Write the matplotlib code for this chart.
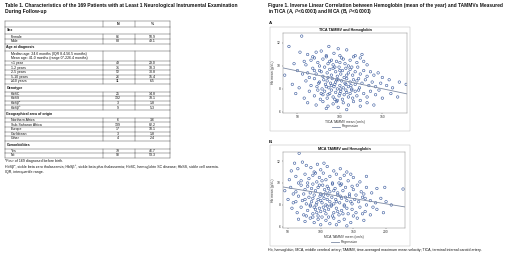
import matplotlib
matplotlib.use("Agg")
import matplotlib.pyplot as plt
from matplotlib.lines import Line2D
from matplotlib.patches import Rectangle

plt.rcParams['font.family'] = ['Liberation Sans', 'DejaVu Sans']

W, H = 520, 258
fig = plt.figure(figsize=(W / 100, H / 100), dpi=100)
fig.patch.set_facecolor('white')


def fx(x):
    return x / W


def fy(y):
    return 1 - y / H


# ---------------- Table data ----------------
table_title = ["Table 1. Characteristics of the 169 Patients with at Least 1 Neurological Instrumental Examination",
               "During Follow-up"]
col_headers = ["N", "%"]
sections = ["Sex", "Age at diagnosis", "Genotype", "Geographical area of origin", "Comorbidities"]
sex_labels = ["Female", "Male"]
sex_n = ["86", "83"]
sex_pct = ["50.9", "49.1"]
age_notes = ["Median age: 24.6 months (IQR 8.4-56.5 months)",
             "Mean age: 41.0 months (range 0*-226.4 months)"]
age_labels = ["<1 year", "1-2 years", "2-5 years", "5-10 years", "\u226510 years"]
age_n = ["49", "31", "52", "26", "11"]
age_pct = ["29.0", "18.3", "30.8", "15.4", "6.5"]
geno_labels = ["HbSC", "HbSS", "HbS\u03b2\u2070", "HbS\u03b2\u207a"]
geno_n = ["25", "132", "3", "9"]
geno_pct = ["14.8", "78.1", "1.8", "5.3"]
geo_labels = ["Northern Africa", "Sub-Saharan Africa", "Europe", "Caribbean", "Other"]
geo_n = ["6", "139", "17", "3", "4"]
geo_pct = ["3.6", "82.2", "10.1", "1.8", "2.4"]
com_labels = ["Yes", "No"]
com_n = ["79", "90"]
com_pct = ["46.7", "53.3"]
table_notes = ["*Four of 169 diagnosed before birth.",
               "HbS\u03b2\u2070, sickle beta zero thalassemia; HbS\u03b2\u207a, sickle beta plus thalassemia; HbSC, hemoglobin SC disease; HbSS, sickle cell anemia.",
               "IQR, interquartile range."]

# ---------------- Figure data ----------------
fig_title = ["Figure 1. Inverse Linear Correlation between Hemoglobin (mean of the year) and TAMMVs Measured",
             "in TICA (A, $\\it{P}$<0.0001) and MCA (B, $\\it{P}$<0.0001)"]
caption = "Hb, hemoglobin; MCA, middle cerebral artery; TAMMV, time-averaged maximum mean velocity; TICA, terminal internal carotid artery."

A_x = [40, 55, 87, 78, 108, 62, 72, 93, 100, 118, 68, 84, 126, 53, 98,
       46, 58, 66, 74, 80, 86, 90, 96, 102, 106, 112, 120, 128, 76, 84, 92, 100, 110, 116, 132, 70, 88, 104, 124, 60,
       35, 50, 62, 68, 72, 76, 80, 82, 85, 88, 90, 92, 95, 97, 99, 101, 103, 105, 107, 110, 112, 115, 118, 121, 124,
       128, 132, 136, 140, 145, 78, 86, 94, 100, 108, 114, 64, 70, 150, 56,
       44, 52, 60, 66, 70, 73, 76, 79, 81, 83, 85, 87, 89, 91, 93, 95, 97, 98, 100, 102, 104, 106, 108, 110, 112,
       114, 116, 118, 120, 123, 126, 130, 134, 138, 142, 148, 155, 162, 170, 178, 90, 96, 101, 107, 113, 84, 94, 75,
       122, 158,
       48, 58, 64, 70, 74, 77, 80, 82, 85, 88, 90, 92, 95, 97, 99, 101, 103, 105, 107, 110, 112, 115, 118, 120, 124,
       128, 132, 136, 142, 150, 160, 168, 86, 94, 100, 108, 114, 78, 122, 146,
       62, 72, 80, 86, 92, 98, 104, 110, 116, 124, 132, 140, 96, 84, 108]
A_y = [11.7, 12.6, 11.7, 11.3, 11.4, 11.0, 11.2, 11.1, 10.9, 10.9, 10.8, 10.9, 11.0, 11.2, 11.5,
       10.2, 10.4, 10.5, 10.3, 10.6, 10.2, 10.5, 10.4, 10.7, 10.2, 10.5, 10.3, 10.4, 10.0, 10.8, 10.1, 10.3, 10.0,
       10.8, 10.1, 10.7, 10.4, 10.6, 10.7, 10.1,
       9.2, 9.6, 9.4, 9.8, 9.3, 9.6, 9.1, 9.9, 9.4, 9.7, 9.2, 9.8, 9.5, 9.1, 9.9, 9.3, 9.6, 9.0, 9.8, 9.4, 9.7, 9.2,
       9.5, 9.9, 9.3, 9.6, 9.1, 9.5, 9.2, 9.4, 9.5, 9.0, 9.9, 9.6, 9.2, 9.9, 9.0, 9.6, 9.0, 9.3,
       8.4, 8.1, 8.7, 8.3, 8.9, 8.2, 8.6, 8.0, 8.8, 8.4, 8.7, 8.1, 8.5, 8.9, 8.2, 8.6, 8.0, 8.8, 8.3, 8.7, 8.1, 8.5,
       8.9, 8.2, 8.6, 8.0, 8.8, 8.4, 8.7, 8.1, 8.5, 8.8, 8.3, 8.6, 8.2, 8.5, 8.3, 8.1, 8.6, 8.4, 8.3, 8.8, 8.0, 8.4,
       8.3, 8.2, 8.4, 8.5, 8.9, 8.8,
       7.6, 7.2, 7.8, 7.4, 7.9, 7.1, 7.5, 7.8, 7.2, 7.6, 7.9, 7.3, 7.7, 7.0, 7.4, 7.8, 7.1, 7.5, 7.9, 7.3, 7.6, 7.2,
       7.8, 7.4, 7.0, 7.6, 7.3, 7.8, 7.5, 7.2, 7.6, 7.3, 7.5, 7.1, 7.6, 7.7, 7.9, 7.6, 7.9, 7.9,
       6.8, 6.6, 6.9, 6.5, 6.7, 6.4, 6.8, 6.6, 6.9, 6.5, 6.8, 6.6, 6.9, 6.3, 6.2]
A_reg_x = [33, 179]
A_reg_y = [9.83, 7.57]

B_x = [67, 60, 72, 78, 85, 95, 100, 110, 120, 65, 90, 130, 105, 140, 55,
       52, 62, 70, 76, 82, 88, 94, 98, 104, 108, 114, 118, 124, 130, 136, 142, 150, 160, 170, 80, 92, 102, 128, 146, 66,
       45, 54, 62, 70, 76, 80, 84, 88, 92, 96, 100, 103, 106, 110, 114, 118, 122, 126, 130, 134, 138, 144, 150, 156,
       162, 170, 178, 186, 198, 226, 74, 86, 98, 108, 120, 132, 58, 148, 166, 112,
       50, 58, 66, 72, 78, 82, 86, 90, 93, 96, 99, 102, 105, 108, 111, 114, 117, 120, 123, 126, 129, 132, 136, 140,
       144, 148, 152, 158, 164, 170, 176, 184, 192, 200, 208, 88, 100, 110, 124, 138, 76, 94, 116, 130, 154, 104, 84,
       146, 168, 62,
       56, 64, 70, 74, 80, 84, 88, 92, 96, 100, 104, 108, 112, 116, 120, 124, 128, 132, 136, 142, 148, 154, 160, 168,
       176, 186, 196, 90, 98, 106, 118, 126, 140, 78, 110, 150, 164, 94, 134, 180,
       66, 76, 84, 90, 96, 102, 108, 114, 120, 128, 136, 146, 156, 166, 100, 88, 112, 140, 124]
B_y = [12.7, 11.8, 11.9, 11.6, 11.4, 11.7, 11.2, 11.5, 11.1, 11.3, 11.0, 11.3, 11.8, 11.0, 11.1,
       10.3, 10.6, 10.2, 10.8, 10.4, 10.7, 10.1, 10.5, 10.9, 10.3, 10.6, 10.0, 10.8, 10.4, 10.7, 10.2, 10.5, 10.1,
       10.6, 10.0, 10.9, 10.2, 10.0, 10.8, 10.0,
       9.3, 9.6, 9.2, 9.8, 9.4, 9.7, 9.1, 9.9, 9.3, 9.6, 9.0, 9.8, 9.4, 9.7, 9.2, 9.9, 9.5, 9.1, 9.8, 9.3, 9.6, 9.0,
       9.4, 9.8, 9.2, 9.6, 9.1, 9.5, 9.6, 9.45, 9.0, 9.5, 9.8, 9.1, 9.3, 9.9, 9.0, 9.7, 9.0, 9.5,
       8.5, 8.2, 8.8, 8.4, 8.1, 8.7, 8.3, 8.9, 8.0, 8.5, 8.8, 8.2, 8.6, 8.0, 8.9, 8.3, 8.7, 8.1, 8.5, 8.9, 8.2, 8.6,
       8.0, 8.4, 8.8, 8.1, 8.5, 8.3, 8.7, 8.0, 8.4, 8.2, 8.6, 8.3, 8.0, 8.6, 8.4, 8.5, 8.3, 8.7, 8.5, 8.2, 8.0, 8.8,
       8.9, 8.9, 8.0, 8.3, 8.6, 8.3,
       7.7, 7.3, 7.8, 7.1, 7.5, 7.9, 7.2, 7.6, 7.0, 7.4, 7.8, 7.2, 7.6, 7.9, 7.3, 7.7, 7.1, 7.5, 7.9, 7.2, 7.6, 7.3,
       7.8, 7.4, 7.1, 7.6, 7.3, 7.8, 7.7, 7.5, 7.0, 7.4, 7.7, 7.0, 7.9, 7.0, 7.2, 7.3, 7.2, 7.8,
       6.7, 6.5, 6.8, 6.4, 6.7, 6.9, 6.6, 6.3, 6.8, 6.5, 6.7, 6.4, 6.8, 6.6, 6.2, 6.9, 6.9, 6.1, 6.2]
B_reg_x = [42, 229]
B_reg_y = [9.64, 7.82]

TXT = '#111111'
LINE = '#555555'

# ---------------- Table drawing ----------------
fig.text(fx(5), fy(5.5), table_title[0], fontsize=3.6, fontweight='bold', va='center', ha='left', color=TXT)
fig.text(fx(5), fy(12), table_title[1], fontsize=3.6, fontweight='bold', va='center', ha='left', color=TXT)

TL, TR, C1, C2 = 5, 170, 103, 135
XN, XP = 118, 152
top = 21
h_head, h_sec, h_row, h_note = 5.5, 7.8, 4.6, 9.5
fs = 2.55


def hline(y):
    fig.add_artist(Line2D([fx(TL), fx(TR)], [fy(y), fy(y)], lw=0.35, color=LINE))


def vlines(y0, y1):
    for xx in (TL, C1, C2, TR):
        fig.add_artist(Line2D([fx(xx), fx(xx)], [fy(y0), fy(y1)], lw=0.35, color=LINE))


def vouter(y0, y1):
    for xx in (TL, TR):
        fig.add_artist(Line2D([fx(xx), fx(xx)], [fy(y0), fy(y1)], lw=0.35, color=LINE))


y = top
hline(y)
vlines(y, y + h_head)
fig.text(fx(XN), fy(y + h_head / 2), col_headers[0], fontsize=fs, fontweight='bold', ha='center', va='center', color=TXT)
fig.text(fx(XP), fy(y + h_head / 2), col_headers[1], fontsize=fs, fontweight='bold', ha='center', va='center', color=TXT)
y += h_head
hline(y)


def section(title):
    global y
    vouter(y, y + h_sec)
    fig.text(fx(TL + 1.5), fy(y + h_sec / 2), title, fontsize=fs, fontweight='bold', ha='left', va='center', color=TXT)
    y += h_sec
    hline(y)


def rows(labels, ns, ps):
    global y
    for lab, n, p in zip(labels, ns, ps):
        vlines(y, y + h_row)
        fig.text(fx(TL + 6), fy(y + h_row / 2), lab, fontsize=fs, ha='left', va='center', color=TXT)
        fig.text(fx(XN), fy(y + h_row / 2), n, fontsize=fs, ha='center', va='center', color=TXT)
        fig.text(fx(XP), fy(y + h_row / 2), p, fontsize=fs, ha='center', va='center', color=TXT)
        y += h_row
        hline(y)


section(sections[0])
rows(sex_labels, sex_n, sex_pct)
section(sections[1])
vlines(y, y + h_note)
fig.text(fx(TL + 6), fy(y + h_note * 0.28), age_notes[0], fontsize=fs, ha='left', va='center', color=TXT)
fig.text(fx(TL + 6), fy(y + h_note * 0.74), age_notes[1], fontsize=fs, ha='left', va='center', color=TXT)
y += h_note
hline(y)
rows(age_labels, age_n, age_pct)
section(sections[2])
rows(geno_labels, geno_n, geno_pct)
section(sections[3])
rows(geo_labels, geo_n, geo_pct)
section(sections[4])
rows(com_labels, com_n, com_pct)

ny = y + 3.2
for note in table_notes:
    fig.text(fx(5), fy(ny), note, fontsize=2.6, ha='left', va='center', color=TXT)
    ny += 5.3

# ---------------- Figure drawing ----------------
fig.text(fx(268), fy(5.5), fig_title[0], fontsize=3.5, fontweight='bold', ha='left', va='center', color=TXT)
fig.text(fx(268), fy(12), fig_title[1], fontsize=3.5, fontweight='bold', ha='left', va='center', color=TXT)


def panel(letter, ly, box, axbox, xs, ys, rx, ry, xlim, ylim, xticks, title, xlabel, legy):
    fig.text(fx(269), fy(ly), letter, fontsize=3.2, fontweight='bold', ha='left', va='center', color=TXT)
    bx0, by0, bx1, by1 = box
    fig.add_artist(Rectangle((fx(bx0), fy(by1)), fx(bx1 - bx0), (by1 - by0) / H,
                             transform=fig.transFigure, fill=False, lw=0.35, ec='#bbbbbb'))
    ax0, ay0, ax1, ay1 = axbox
    ax = fig.add_axes([fx(ax0), fy(ay1), fx(ax1 - ax0), (ay1 - ay0) / H])
    ax.scatter(xs, ys, s=3.2, facecolors='none', edgecolors='#34559a', linewidths=0.4, zorder=2)
    ax.plot(rx, ry, color='#7d8aa3', lw=0.6, zorder=3)
    ax.set_xlim(*xlim)
    ax.set_ylim(*ylim)
    ax.set_xticks(xticks)
    ax.set_yticks([6, 8, 10, 12])
    ax.tick_params(labelsize=2.4, length=1.0, width=0.3, pad=0.8, colors='#333333')
    for s in ax.spines.values():
        s.set_linewidth(0.35)
        s.set_color('#888888')
    ax.set_title(title, fontsize=2.7, fontweight='bold', pad=1.5, color=TXT)
    ax.set_xlabel(xlabel, fontsize=2.4, labelpad=0.6, color='#333333')
    ax.set_ylabel("Hb mean (g/dL)", fontsize=2.4, labelpad=1.5, color='#333333')
    lx = (ax0 + ax1) / 2
    fig.add_artist(Line2D([fx(lx - 13), fx(lx - 5)], [fy(legy), fy(legy)], color='#7d8aa3', lw=0.6))
    fig.text(fx(lx - 3), fy(legy), "Regression", fontsize=2.4, ha='left', va='center', color='#333333')
    return ax


panel("A.", 23, (270, 27, 410, 131), (283, 33, 407, 112.5), A_x, A_y, A_reg_x, A_reg_y,
      (33, 179), (5.95, 12.87), [50, 100, 150], "TICA TAMMV and Hemoglobin", "TICA TAMMV mean (cm/s)", 126.5)
panel("B.", 142, (270, 145, 410, 246), (283, 152, 405, 227.5), B_x, B_y, B_reg_x, B_reg_y,
      (42.3, 229), (5.95, 12.82), [50, 100, 150, 200], "MCA TAMMV and Hemoglobin", "MCA TAMMV mean (cm/s)", 242)

fig.text(fx(268), fy(250), caption, fontsize=2.65, ha='left', va='center', color=TXT)

fig.savefig("out.png", dpi=100, facecolor='white')
